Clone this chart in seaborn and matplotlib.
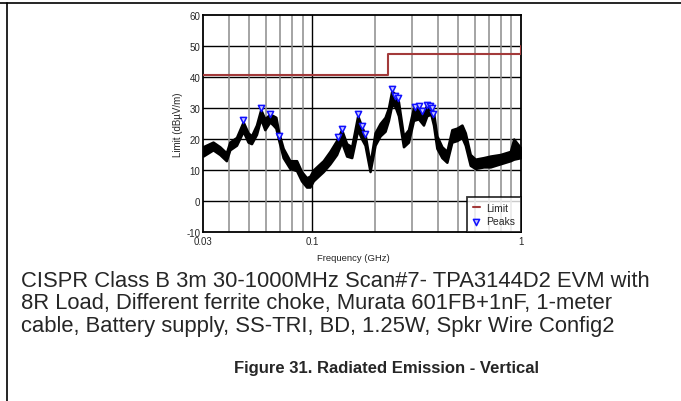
import matplotlib
matplotlib.use("Agg")
import matplotlib.pyplot as plt
from matplotlib.lines import Line2D
from matplotlib.ticker import FixedLocator, NullFormatter
import seaborn as sns

# Measured trace envelope (GHz, dBuV/m)
trace_freq = [0.0300, 0.0335, 0.0361, 0.0388, 0.0403, 0.0434, 0.0467, 0.0493, 0.0512, 0.0541,
              0.0567, 0.0593, 0.0627, 0.0650, 0.0670, 0.0692, 0.0726, 0.0782, 0.0842, 0.0889,
              0.0940, 0.0975, 0.1012, 0.1069, 0.1130, 0.1216, 0.1309, 0.1383, 0.1462, 0.1546,
              0.1652, 0.1726, 0.1791, 0.1893, 0.2000, 0.2114, 0.2234, 0.2318, 0.2404, 0.2495,
              0.2589, 0.2736, 0.2891, 0.3055, 0.3228, 0.3411, 0.3540, 0.3700, 0.3810, 0.3954,
              0.4179, 0.4415, 0.4665, 0.4931, 0.5213, 0.5409, 0.5715, 0.6041, 0.6620, 0.7129,
              0.7958, 0.8890, 0.9230, 1.0000]
trace_lo = [14.5, 16.5, 15.0, 13.0, 16.5, 18.0, 22.5, 19.0, 18.5, 21.5,
            26.5, 23.0, 25.5, 24.5, 23.5, 19.5, 14.0, 10.5, 9.8, 6.5,
            4.5, 4.5, 6.5, 8.0, 9.5, 12.0, 15.0, 19.0, 14.5, 14.0,
            23.0, 20.0, 18.0, 9.5, 18.0, 21.0, 22.5, 26.0, 31.0, 30.5,
            27.5, 17.5, 19.0, 26.0, 26.5, 24.5, 27.5, 28.0, 24.5, 17.0,
            14.0, 12.5, 19.0, 19.5, 20.5, 18.0, 11.5, 10.5, 11.0, 11.0,
            12.0, 13.0, 13.5, 14.0]
trace_hi = [17.5, 19.0, 17.5, 15.5, 19.0, 20.5, 25.5, 22.0, 21.0, 24.5,
            29.5, 26.5, 28.0, 27.5, 27.0, 22.0, 17.0, 13.0, 13.0, 9.5,
            7.5, 8.0, 10.0, 11.5, 13.0, 16.0, 19.5, 23.0, 18.5, 17.5,
            27.5, 24.0, 21.5, 12.0, 22.0, 25.0, 27.0, 30.0, 35.5, 34.5,
            32.0, 21.0, 23.0, 30.0, 30.5, 28.5, 31.0, 31.0, 28.5, 21.0,
            17.5, 16.0, 23.0, 23.5, 24.5, 22.0, 15.0, 13.5, 14.0, 14.5,
            15.0, 16.0, 20.0, 17.0]

limit_freq = [0.03, 0.23, 0.23, 1.0, 1.0]
limit_val = [40.5, 40.5, 47.5, 47.5, 50.0]

peak_freq = [0.0467, 0.0567, 0.0627, 0.0692, 0.1334, 0.1394, 0.165, 0.174, 0.180, 0.240,
             0.2495, 0.258, 0.311, 0.326, 0.337, 0.354, 0.366, 0.374, 0.381]
peak_val = [26.1, 29.9, 28.0, 21.0, 20.6, 23.1, 28.0, 24.2, 21.5, 36.0,
            33.9, 33.1, 30.3, 30.6, 29.0, 30.9, 30.6, 30.1, 28.0]

caption = ("CISPR Class B 3m 30-1000MHz Scan#7- TPA3144D2 EVM with\n"
           "8R Load, Different ferrite choke, Murata 601FB+1nF, 1-meter\n"
           "cable, Battery supply, SS-TRI, BD, 1.25W, Spkr Wire Config2")
fig_title = "Figure 31. Radiated Emission - Vertical"

sns.set_style("white")
plt.rcParams["font.family"] = ["Liberation Sans", "DejaVu Sans"]
plt.rcParams["axes.unicode_minus"] = False

fig = plt.figure(figsize=(6.81, 4.02), dpi=100)
ax = fig.add_axes([203 / 681, 1 - 233 / 402, 318 / 681, 217 / 402])

ax.set_xscale("log")
ax.set_xlim(0.03, 1)
ax.set_ylim(-10, 60)

# grid
ax.xaxis.set_minor_locator(FixedLocator([0.04, 0.05, 0.06, 0.07, 0.08, 0.09,
                                         0.2, 0.3, 0.4, 0.5, 0.6, 0.7, 0.8, 0.9]))
ax.xaxis.set_minor_formatter(NullFormatter())
ax.set_xticks([0.03, 0.1, 1])
ax.set_xticklabels(["0.03", "0.1", "1"])
ax.set_yticks(range(-10, 61, 10))
ax.grid(which="minor", axis="x", color="#8c8c8c", lw=1.1)
ax.axvline(0.1, color="black", lw=1.0, zorder=0.5)
for v in range(0, 51, 10):
    ax.axhline(v, color="black", lw=1.0, zorder=0.5)
ax.set_axisbelow(True)

ax.fill_between(trace_freq, trace_lo, trace_hi, color="black", lw=1.8, edgecolor="black", zorder=2)
sns.lineplot(x=limit_freq, y=limit_val, color="#a33a3a", lw=1.5, sort=False,
             estimator=None, ax=ax, zorder=3, label="Limit")
sns.scatterplot(x=peak_freq, y=peak_val, marker="v", s=20, facecolor="#c8c8ff",
                edgecolor="#1010ff", linewidth=1.1, ax=ax, zorder=4, label="Peaks")

ax.tick_params(axis="both", length=0, labelsize=7, pad=2)
ax.tick_params(axis="x", pad=3)
for s in ax.spines.values():
    s.set_color("black")
    s.set_linewidth(1.3)
ax.set_xlabel("Frequency (GHz)", fontsize=6.8)
ax.xaxis.set_label_coords((353 - 203) / 318, -21 / 217)
ax.set_ylabel("Limit (dB\u00b5V/m)", fontsize=7, labelpad=2)

leg = ax.legend(loc="lower right", fontsize=7.5, frameon=True, fancybox=False,
                borderaxespad=0, handlelength=0.7, handletextpad=0.6,
                borderpad=0.55, labelspacing=0.35)
leg.get_frame().set_edgecolor("black")
leg.get_frame().set_linewidth(1.3)

# page decorations
fig.add_artist(Line2D([0, 1], [1 - 4 / 402, 1 - 4 / 402], color="black", lw=1.2))
fig.add_artist(Line2D([7 / 681, 7 / 681], [0, 1 - 4 / 402], color="black", lw=1.2))

fig.text(21 / 681, 1 - 304 / 402, caption, fontsize=15.8, va="center", ha="left",
         linespacing=1.1)
fig.text(386 / 681, 1 - 368 / 402, fig_title, fontsize=12, fontweight="bold",
         va="center", ha="center")

fig.savefig("out.png", dpi=100)
